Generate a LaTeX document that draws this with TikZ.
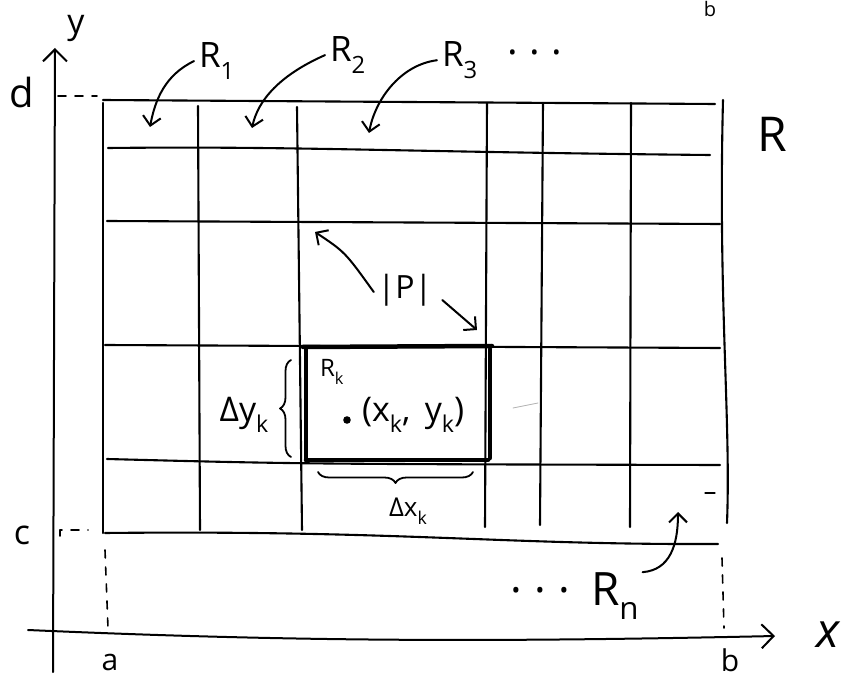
\documentclass[tikz,border=0pt]{standalone}
\usepackage{fontspec}
\usepackage{graphicx}
\setmainfont{Open Sans}
\usetikzlibrary{arrows.meta,decorations.pathreplacing,calc}
\newcommand\fsz[1]{\fontsize{#1}{#1}\selectfont}
\newcommand\mysub[1]{\raisebox{-0.32em}{\scalebox{0.68}{#1}}}
\newcommand\hdots{.\hspace{0.28em}.\hspace{0.28em}.}
\begin{document}
\begin{tikzpicture}[x=1pt,y=-1pt,line cap=round,line join=round,
  ln/.style={line width=2.1pt},
  boxln/.style={line width=4.5pt},
  dsh/.style={line width=1.6pt,dash pattern=on 8pt off 9pt},
  harrow/.style={line width=2pt,-{Straight Barb[length=9pt,width=18pt]}},
  axarrow/.style={line width=2pt,-{Straight Barb[length=12pt,width=24pt]}},
  lbl/.style={inner sep=0pt,outer sep=0pt},
  brc/.style={line width=1.8pt,decorate,decoration={brace,amplitude=11pt}}]
\useasboundingbox (0,0) rectangle (847,679);
% axes
\draw[axarrow] (53,672) -- (55,48);
\draw[axarrow] (28,630) .. controls (300,642) and (500,642) .. (775,636);
% grid horizontals
\draw[ln] (103,100) -- (715,104);
\draw[ln] (108,148) .. controls (300,146) and (400,152) .. (710,155);
\draw[ln] (107,221) -- (720,224);
\draw[ln] (105,345) -- (720,348);
\draw[ln] (107,459) .. controls (300,464) .. (720,465);
\draw[ln] (105,533) .. controls (400,530) and (500,545) .. (718,544);
% grid verticals
\draw[ln] (103,103) -- (103,533);
\draw[ln] (198,106) -- (200,530);
\draw[ln] (297,107) -- (302,530);
\draw[ln] (487,103) -- (485,527);
\draw[ln] (543,103) -- (540,525);
\draw[ln] (631,103) -- (630,527);
\draw[ln] (723,100) .. controls (718,300) and (731,420) .. (727,523);
% dashed guides
\draw[dsh] (58,96) -- (97,96);
\draw[dsh] (60,536) -- (60,530) -- (88,530);
\draw[dsh] (105,550) -- (108,628);
\draw[dsh] (722,558) -- (724,628);
% highlighted cell R_k
\draw[boxln] (303,347) -- (492,346);
\draw[boxln] (306,349) -- (306,460);
\draw[boxln] (490,349) -- (490,458);
\draw[boxln] (306,460) -- (488,460);
% braces
\draw[brc] (291,457) -- (291,360);
\draw[brc] (473,472) -- (318,472);
% axis labels
\node[lbl,font=\fsz{34}] (ylab) at (76,28) {y};
\node[lbl,font=\fsz{40}] (dlab) at (22,93) {d};
\node[lbl,font=\fsz{34}] (clab) at (22,535) {c};
\node[lbl,font=\fsz{30}] (alab) at (110,662) {a};
\node[lbl,font=\fsz{30}] (blab) at (730,660) {b};
\node[lbl,font=\fsz{20}] (btop) at (710,9) {b};
\node[lbl,font=\fsz{48}\itshape] (xlab) at (828,635) {x};
% region labels
\node[lbl,anchor=base west,font=\fsz{35}] (R1) at (199,68) {R\mysub{1}};
\node[lbl,anchor=base west,font=\fsz{35}] (R2) at (330,62) {R\mysub{2}};
\node[lbl,anchor=base west,font=\fsz{35}] (R3) at (442,67) {R\mysub{3}};
\node[lbl,font=\fsz{40}] (dots3) at (535,52) {\hdots};
\node[lbl,anchor=base west,font=\fsz{48}] (R) at (757,152) {R};
\node[lbl,font=\fsz{32}] (P) at (405,290) {|P|};
\node[lbl,anchor=base west,font=\fsz{24}] (Rk) at (320,377) {R\mysub{k}};
\fill (347,420) circle (3.8);
\node[lbl,anchor=west,font=\fsz{34}] (xk) at (362,415) {(x\mysub{k}, \,y\mysub{k})};
\node[lbl,font=\fsz{34}] (dy) at (244,415) {Δy\mysub{k}};
\node[lbl,font=\fsz{26}] (dx) at (408,511) {Δx\mysub{k}};
\node[lbl,anchor=base west,font=\fsz{46}] (Rn) at (591,605) {R\mysub{n}};
\node[lbl,font=\fsz{44}] (dotsn) at (540,590) {\hdots};
% arrow targets
\coordinate (t1) at (150,127);
\coordinate (t2) at (252,128);
\coordinate (t3) at (369,133);
\coordinate (tp1) at (315,232);
\coordinate (tp2) at (477,330);
\coordinate (tn) at (678,512);
% arrows
\draw[harrow] ([xshift=-5pt]R1.west) .. controls (165,75) and (155,100) .. (t1);
\draw[harrow] ([xshift=-5pt]R2.west) .. controls (280,75) and (258,100) .. (t2);
\draw[harrow] ([xshift=-5pt]R3.west) .. controls (400,65) and (375,100) .. (t3);
\draw[harrow] ([xshift=-4pt,yshift=-2pt]P.west) .. controls (345,252) .. (tp1);
\draw[harrow] ([xshift=10pt,yshift=-10pt]P.east) -- (tp2);
\draw[harrow] ([xshift=4pt]Rn.north east) .. controls (670,570) and (678,545) .. (tn);
% stray marks
\draw[gray!60,line width=0.8pt] (513,408) -- (538,403);
\draw[line width=1.2pt] (705,493) -- (715,493);
\end{tikzpicture}
\end{document}
